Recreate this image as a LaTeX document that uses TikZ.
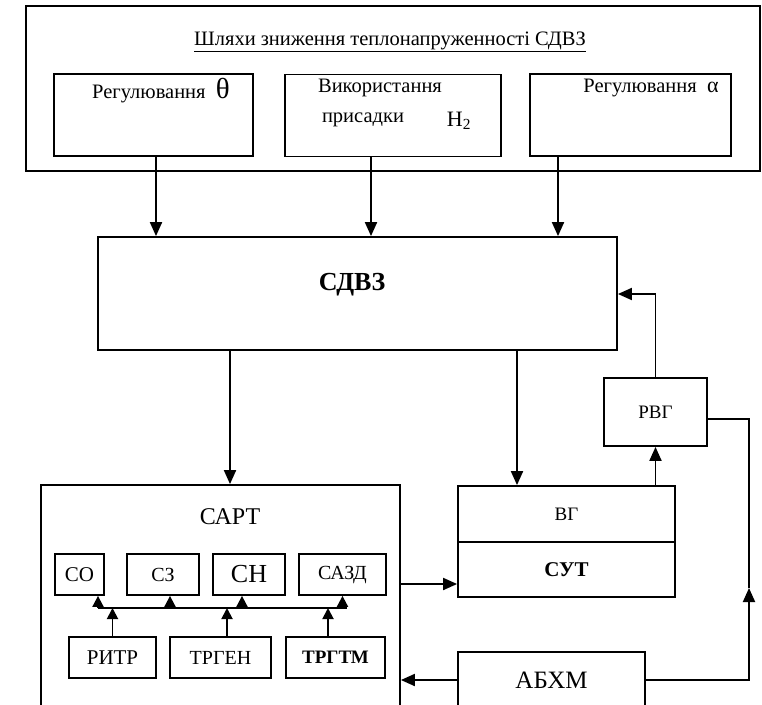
\documentclass[tikz,border=0pt]{standalone}
\usepackage{fontspec}
\setmainfont{Liberation Serif}
\usetikzlibrary{arrows.meta}

\begin{document}
\begin{tikzpicture}[x=1pt, y=-1pt, >={Triangle[length=14pt,width=12pt]},
        blk/.style={draw, line width=1.8pt, inner sep=0pt},
        txt/.style={inner sep=0pt},
        arr/.style={->, line width=1.9pt},
        sarr/.style={-{Triangle[length=11pt,width=11pt]}, line width=1.9pt},
        wire/.style={line width=1.8pt},
        fs/.style={font=\fontsize{#1}{#1}\selectfont},
        fsb/.style={font=\fontsize{#1}{#1}\selectfont\bfseries}]
    \useasboundingbox (0,0) rectangle (762,704);

    \node[blk, minimum width=734pt, minimum height=165pt] (ways) at (393,88.5) {};
    \node[txt, fs=20.5] (title) at (390,42) {\underline{Шляхи зниження теплонапруженності СДВЗ}};
    \node[blk, minimum width=199pt, minimum height=82pt] (theta) at (153.5,115) {};
    \node[blk, minimum width=216pt, minimum height=82pt] (hyd) at (393,115.5) {};
    \node[blk, minimum width=201pt, minimum height=82pt] (alpha) at (630.5,115) {};
    \node[txt, fs=20.5] (thetat) at (161,91) {Регулювання\enspace{\fontsize{29}{29}\selectfont θ}};
    \node[txt, fs=20.5] (hydt1) at (380,88) {Використання};
    \node[txt, fs=20.5] (hydt2) at (363,120) {присадки};
    \node[txt, fs=22] (hydt3) at (459,121) {H\textsubscript{2}};
    \node[txt, fs=20.5] (alphat) at (651,88) {Регулювання\enspace{\fontsize{22}{22}\selectfont α}};

    \node[blk, minimum width=519pt, minimum height=113pt] (sdvz) at (357.5,293.5) {};
    \node[txt, fsb=26] (sdvzt) at (352,285) {СДВЗ};

    \node[blk, minimum width=359pt, minimum height=228pt] (sart) at (220.5,599) {};
    \node[txt, fs=24] (sartt) at (230,517) {САРТ};
    \node[blk, minimum width=49pt, minimum height=41pt, fs=21] (co) at (79.5,574.5) {СО};
    \node[blk, minimum width=72pt, minimum height=41pt, fs=20] (cz) at (163,574.5) {СЗ};
    \node[blk, minimum width=72pt, minimum height=41pt, fs=26] (cn) at (249,574.5) {СН};
    \node[blk, minimum width=87pt, minimum height=41pt, fs=20] (cazd) at (342.5,574.5) {САЗД};
    \node[blk, minimum width=87pt, minimum height=41pt, fs=21] (ritr) at (112.5,657.5) {РИТР};
    \node[blk, minimum width=101pt, minimum height=41pt, fs=20] (trgen) at (220.5,657.5) {ТРГЕН};
    \node[blk, minimum width=99pt, minimum height=41pt, fsb=19] (trgtm) at (335.5,657.5) {ТРГТМ};
    \coordinate (busl) at (98,608);
    \coordinate (busr) at (347,608);

    \node[blk, minimum width=217pt, minimum height=56pt, fs=19] (vg) at (566.5,514) {ВГ};
    \node[blk, minimum width=217pt, minimum height=55pt, fsb=21] (sut) at (566.5,569.5) {СУТ};
    \node[blk, minimum width=103pt, minimum height=68pt, fs=19] (rvg) at (655.5,412) {РВГ};
    \node[blk, minimum width=187pt, minimum height=56pt, fs=25] (abxm) at (551.5,680) {АБХМ};
    \coordinate (join) at (749,588);

    \draw[arr] ([xshift=2.5pt]theta.south) -- ([xshift=2.5pt]theta.south |- sdvz.north);
    \draw[arr] ([xshift=-22pt]hyd.south) -- ([xshift=-22pt]hyd.south |- sdvz.north);
    \draw[arr] ([xshift=-72.5pt]alpha.south) -- ([xshift=-72.5pt]alpha.south |- sdvz.north);
    \draw[arr] (sdvz.south -| sartt) -- (sart.north -| sartt);
    \draw[arr] ([xshift=159.5pt]sdvz.south) -- ([xshift=159.5pt]sdvz.south |- vg.north);
    \draw[arr] (vg.north -| rvg) -- (rvg.south);
    \draw[arr] (rvg.north) |- ([yshift=-0.5pt]sdvz.east);
    \draw[wire] ([yshift=-7pt]rvg.east) -| (join);
    \draw[arr] (abxm.east) -| (join);
    \draw[arr] (abxm.west) -- (abxm.west -| sart.east);
    \draw[arr] (sart.east |- 0,584) -- (sut.west |- 0,584);

    \draw[wire] (busl) -- (busr);
    \draw[sarr] ([xshift=18.5pt]co.south |- busl) -- ([xshift=18.5pt]co.south);
    \draw[sarr] ([xshift=7pt]cz.south |- busl) -- ([xshift=7pt]cz.south);
    \draw[sarr] ([xshift=-7pt]cn.south |- busl) -- ([xshift=-7pt]cn.south);
    \draw[sarr] (cazd.south |- busl) -- (cazd.south);
    \draw[sarr] (ritr.north) -- (ritr.north |- busl);
    \draw[sarr] ([xshift=6.5pt]trgen.north) -- ([xshift=6.5pt]trgen.north |- busl);
    \draw[sarr] ([xshift=-7.5pt]trgtm.north) -- ([xshift=-7.5pt]trgtm.north |- busl);
\end{tikzpicture}
\end{document}
